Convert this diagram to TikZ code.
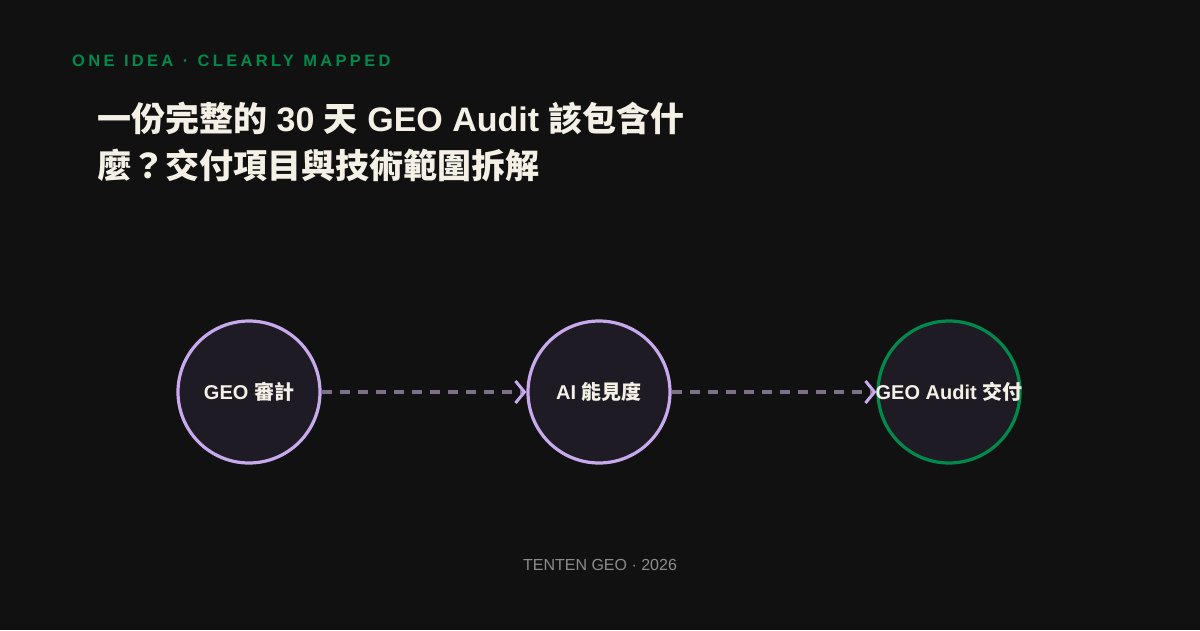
\documentclass[tikz,border=0pt]{standalone}
\usepackage{fontspec}
\setmainfont{Liberation Sans}
\newfontfamily\cjk{Noto Sans CJK TC}
\newfontfamily\labfont[LetterSpace=20,WordSpace=1.2]{Liberation Sans}
\usetikzlibrary{arrows.meta}
\definecolor{bg}{HTML}{111111}
\definecolor{nodefill}{HTML}{1E1B24}
\definecolor{lav}{HTML}{C9A9EE}
\definecolor{grn}{HTML}{008A4B}
\definecolor{dashc}{HTML}{7B7188}
\definecolor{txt}{HTML}{F4F0E6}
\definecolor{foot}{HTML}{8C8C8C}
\begin{document}
\begin{tikzpicture}[x=1pt,y=-1pt,
  stepnode/.style={circle,draw=lav,line width=3.2pt,fill=nodefill,minimum size=142pt,inner sep=0pt},
  endnode/.style={stepnode,draw=grn},
  steptext/.style={inner sep=0pt,text=txt,font=\fontsize{20}{22}\selectfont\bfseries},
  flow/.style={draw=dashc,line width=3.2pt,dash pattern=on 10pt off 8pt,
    -{Straight Barb[length=9pt,width=22pt,line width=3pt,color=lav]}},
  titlef/.style={anchor=base west,text=txt,inner sep=0pt,font=\fontsize{34}{40}\selectfont\bfseries}]
\fill[bg] (0,0) rectangle (1200,630);
\useasboundingbox (0,0) rectangle (1200,630);
\node[anchor=base west,inner sep=0pt,text=grn,font=\fontsize{16.5}{18}\selectfont\bfseries] (kicker) at (72,66) {\labfont\bfseries ONE IDEA · CLEARLY MAPPED};
\node[titlef] (t1) at (97,131) {{\cjk\bfseries 一份完整的} 30 {\cjk\bfseries 天} GEO Audit {\cjk\bfseries 該包含什}};
\node[titlef] (t2) at (97,178) {{\cjk\bfseries 麼？交付項目與技術範圍拆解}};
\node[stepnode] (a) at (249,392) {};
\node[stepnode] (b) at (599,392) {};
\node[endnode] (c) at (949,392) {};
\node[steptext] (al) at (a) {GEO {\cjk\bfseries 審計}};
\node[steptext] (bl) at (b) {AI {\cjk\bfseries 能見度}};
\node[steptext] (cl) at (c) {GEO Audit {\cjk\bfseries 交付}};
\draw[flow] (a) -- (b);
\draw[flow] (b) -- (c);
\node[anchor=base,inner sep=0pt,text=foot,font=\fontsize{16}{18}\selectfont] (f) at (600,570) {TENTEN GEO · 2026};
\end{tikzpicture}
\end{document}
